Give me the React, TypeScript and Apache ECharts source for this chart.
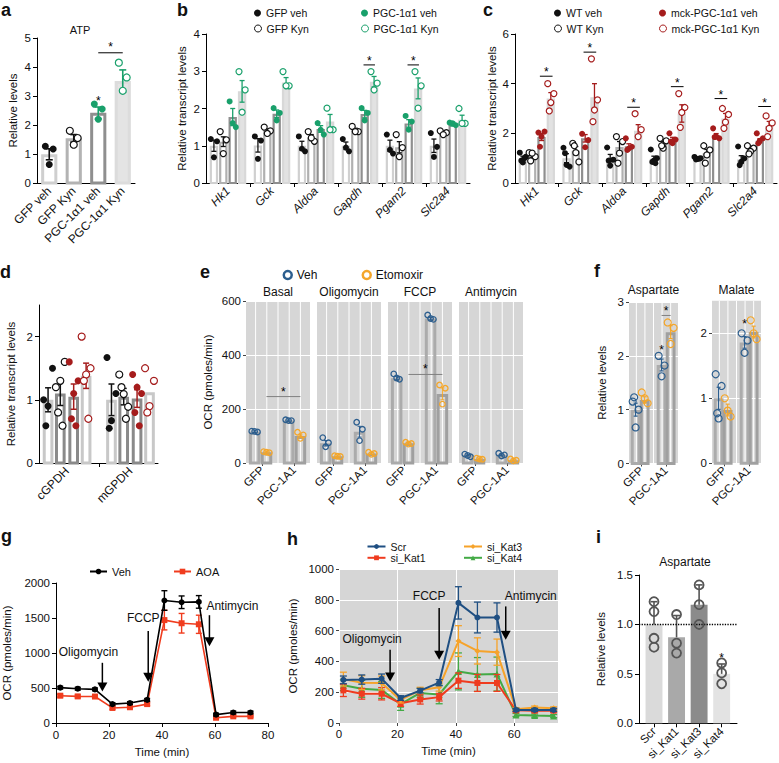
import React, { useEffect, useRef } from "react";
import * as echarts from "echarts";

const FONT = "'Liberation Sans', Arial, Helvetica, sans-serif";

const BLACK = "#111111";
const GREEN = "#19a06b";
const DRED = "#a51c1c";
const BLUE = "#2c5e8e";
const ORANGE = "#f4a62a";
const RED = "#f03c1e";
const H_SCR = "#1f4f82";
const H_KAT1 = "#ef3b1f";
const H_KAT3 = "#f6a32a";
const H_KAT4 = "#43aa45";

// ---------- Panel a : ATP ----------
const aLabels = ["GFP veh", "GFP Kyn", "PGC-1α1 veh", "PGC-1α1 Kyn"];
const aMeans = [0.99, 1.54, 2.42, 3.52];
const aErr = [0.19, 0.13, 0.2, 0.38];
const aPoints = [[1.27, 1.17, 0.64], [1.8, 1.55, 1.32], [2.72, 2.55, 2.2], [4.15, 3.64, 3.18]];
const aStarOnlyY = 2.92;
const aSigY = 4.49;

// ---------- Panel b ----------
const bGenes = ["Hk1", "Gck", "Aldoa", "Gapdh", "Pgam2", "Slc2a4"];
const bLegend = ["GFP veh", "GFP Kyn", "PGC-1α1 veh", "PGC-1α1 Kyn"];
const bMeans = [
  [1.0, 1.01, 1.0, 1.0, 1.0, 1.0],
  [1.11, 1.4, 1.22, 1.42, 0.96, 1.35],
  [1.77, 1.86, 1.45, 1.85, 1.6, 1.58],
  [2.46, 2.7, 1.65, 2.72, 2.54, 1.7],
];
const bErr = [
  [0.15, 0.18, 0.12, 0.1, 0.15, 0.18],
  [0.13, 0.05, 0.08, 0.05, 0.15, 0.04],
  [0.23, 0.1, 0.09, 0.1, 0.1, 0.05],
  [0.29, 0.13, 0.19, 0.14, 0.28, 0.12],
];
const bPoints = [
  [[1.18, 1.12, 0.69], [1.25, 1.14, 0.65], [1.25, 0.85, 0.92], [1.18, 0.85, 0.95], [1.3, 0.79, 0.89], [1.34, 0.97, 0.7]],
  [[1.38, 1.16, 0.79], [1.5, 1.4, 1.33], [1.38, 1.12, 1.21], [1.52, 1.38, 1.38], [1.3, 0.95, 0.71], [1.4, 1.35, 1.3]],
  [[2.19, 1.5, 1.61], [2.01, 1.88, 1.68], [1.61, 1.3, 1.43], [2.01, 1.88, 1.68], [1.8, 1.65, 1.43], [1.62, 1.55, 1.6]],
  [[2.99, 2.5, 1.9], [2.99, 2.61, 2.61], [2.01, 1.43, 1.43], [2.99, 2.68, 2.5], [2.99, 2.61, 2.01], [2.0, 1.6, 1.6]],
];
const bSigGenes = [3, 4];
const bSigY = [3.17, 3.17];

// ---------- Panel c ----------
const cGenes = ["Hk1", "Gck", "Aldoa", "Gapdh", "Pgam2", "Slc2a4"];
const cLegend = ["WT veh", "WT Kyn", "mck-PGC-1α1 veh", "mck-PGC-1α1 Kyn"];
const cMeans = [
  [1.0, 1.0, 1.0, 0.98, 1.0, 0.95],
  [1.1, 1.3, 1.45, 1.6, 1.2, 1.33],
  [1.85, 1.8, 1.48, 1.75, 1.9, 1.7],
  [3.4, 3.45, 2.1, 2.8, 2.6, 2.3],
];
const cErr = [
  [0.08, 0.18, 0.15, 0.1, 0.03, 0.15],
  [0.08, 0.17, 0.22, 0.08, 0.15, 0.07],
  [0.14, 0.15, 0.1, 0.09, 0.09, 0.08],
  [0.24, 0.55, 0.25, 0.35, 0.2, 0.18],
];
const cPoints = [
  [[1.22, 1.06, 0.83, 0.9, 1.0], [1.42, 0.66, 0.73, 1.2], [1.43, 0.94, 0.7, 0.9], [1.35, 1.0, 0.9, 0.85, 0.8], [1.05, 1.0, 0.97, 0.95, 0.98], [1.47, 0.99, 0.85, 0.72]],
  [[1.22, 1.06, 1.2, 0.89], [1.6, 0.85, 1.22, 1.5], [1.87, 1.67, 1.2, 0.8], [1.8, 1.7, 1.4, 1.5], [1.5, 1.33, 1.13, 0.8], [1.5, 1.4, 1.27, 1.17]],
  [[2.03, 2.07, 1.87, 1.46], [1.98, 1.73, 1.44], [1.8, 1.46, 1.39, 1.33], [2.0, 1.75, 1.6, 1.67], [2.2, 1.8, 1.87, 1.85], [2.0, 1.8, 1.7, 1.6]],
  [[4.0, 3.6, 3.24, 2.9], [5.0, 3.35, 2.94, 2.47], [2.79, 2.15, 1.87], [3.6, 3.04, 2.84, 2.24], [3.0, 2.76, 2.45, 2.2], [2.7, 2.42, 2.2, 1.87]],
];
const cSigY = [4.3, 5.27, 3.05, 3.88, 3.4, 3.08];

// ---------- Panel d ----------
const dGenes = ["cGPDH", "mGPDH"];
const dMeans = [[1.0, 1.0], [1.1, 1.05], [1.05, 1.02], [1.38, 1.12]];
const dErr = [[0.19, 0.25], [0.19, 0.13], [0.2, 0.14], [0.2, 0]];
const dPoints = [
  [[1.0, 1.5, 0.9, 0.59], [1.67, 1.1, 0.67, 0.55]],
  [[1.2, 1.6, 1.3, 0.8, 0.59], [1.4, 0.89, 1.09, 1.2, 0.7]],
  [[1.6, 1.3, 1.1, 0.7, 0.59], [1.4, 1.1, 1.2, 0.8, 0.59]],
  [[2.0, 1.5, 1.4, 1.3, 0.7], [1.5, 1.3, 0.9, 0.8]],
];

// ---------- Panel e ----------
const eStages = ["Basal", "Oligomycin", "FCCP", "Antimycin"];
const eGroups = ["GFP", "PGC-1A1"];
const eVehGFP = [116, 73, 314, 30];
const eEtoGFP = [40, 25, 73, 15];
const eVehPGC = [157, 116, 535, 30];
const eEtoPGC = [100, 35, 256, 10];
const eVehGFPPts = [[118, 115, 117], [94, 75, 60], [330, 310, 315], [33, 23, 28]];
const eEtoGFPPts = [[42, 38, 40], [27, 24, 25], [77, 72, 70], [18, 14, 15]];
const eVehPGCPts = [[160, 157, 157], [151, 125, 83], [548, 532, 535], [36, 30, 26]];
const eEtoPGCPts = [[114, 104, 91], [40, 35, 32], [289, 277, 218], [15, 10, 8]];
const eVehGFPErr = [3, 10, 6, 3];
const eEtoGFPErr = [2, 1, 3, 2];
const eVehPGCErr = [2, 20, 5, 3];
const eEtoPGCErr = [7, 3, 22, 2];
const eSigY = [246, null, 328, null];

// ---------- Panel f ----------
const fMetabolites = ["Aspartate", "Malate"];
const fVehGFP = [1.0, 1.0];
const fEtoGFP = [1.18, 0.82];
const fVehPGC = [1.83, 1.86];
const fEtoPGC = [2.44, 2.02];
const fVehGFPPts = [[1.15, 1.0, 0.67, 1.23], [1.37, 1.19, 0.69, 0.77]];
const fEtoGFPPts = [[1.32, 1.12, 1.21], [1.0, 0.72, 0.81]];
const fVehPGCPts = [[2.0, 1.82, 1.62], [2.0, 1.89, 1.7]];
const fEtoPGCPts = [[2.62, 2.52, 2.22], [2.2, 1.91, 2.0]];
const fVehGFPErr = [0.12, 0.17];
const fEtoGFPErr = [0.06, 0.09];
const fVehPGCErr = [0.11, 0.09];
const fEtoPGCErr = [0.12, 0.09];
const fStarOnlyY = [2.16, 2.19];
const fSigY = [2.75, null];
const fMax = [3, 2.5];

// ---------- Panel g ----------
const gTime = [1.6, 8.2, 14.7, 21.3, 27.9, 34.4, 40.9, 47.4, 53.9, 60.4, 66.9, 73.4];
const gVeh = [505, 490, 480, 270, 285, 330, 1750, 1725, 1730, 120, 150, 150];
const gVehErr = [20, 20, 20, 20, 20, 20, 140, 90, 90, 20, 20, 20];
const gAOA = [390, 380, 378, 215, 225, 270, 1470, 1425, 1410, 75, 95, 95];
const gAOAErr = [20, 20, 20, 20, 20, 20, 140, 140, 130, 10, 10, 10];
const gInjections = ["Oligomycin", "FCCP", "Antimycin"];
const gArrowT = [17.5, 34.8, 57.9];
const gArrowTop = [860, 1315, 1540];
const gArrowTip = [450, 590, 1098];

// ---------- Panel h ----------
const hTime = [1.5, 7.8, 14.6, 21.1, 27.8, 34.3, 40.9, 47.4, 54.1, 60.6, 67.0, 73.5];
const hScr = [280, 282, 288, 162, 210, 262, 780, 685, 685, 85, 85, 85];
const hScrErr = [25, 30, 30, 15, 15, 20, 105, 100, 95, 10, 10, 10];
const hKat3 = [285, 262, 260, 150, 212, 232, 532, 468, 460, 90, 100, 95];
const hKat3Err = [45, 45, 45, 20, 20, 25, 100, 85, 85, 10, 10, 10];
const hKat1 = [212, 190, 190, 128, 153, 168, 275, 260, 260, 82, 80, 80];
const hKat1Err = [40, 35, 40, 20, 30, 25, 50, 55, 55, 10, 10, 10];
const hKat4 = [245, 222, 215, 122, 195, 185, 335, 315, 318, 52, 48, 45];
const hKat4Err = [35, 55, 55, 40, 30, 60, 120, 110, 110, 10, 10, 10];
const hArrowT = [17.5, 34.3, 57.1];
const hArrowTop = [476, 747, 757];
const hArrowTip = [270, 411, 541];

// ---------- Panel i ----------
const iLabels = ["Scr", "si_Kat1", "si_Kat3", "si_Kat4"];
const iMeans = [1.0, 0.87, 1.2, 0.5];
const iErr = [0.23, 0.22, 0.2, 0.1];
const iPoints = [[1.23, 1.13, 0.86, 0.77], [1.1, 0.81, 0.71], [1.4, 1.2, 1.0], [0.61, 0.51, 0.4]];
const iStarY = 0.69;
const iRef = 1.0;

// ---------- style constants (not data) ----------
const JIT = [-1, 1, 0, -0.5, 0.5];
const GROUP_OFF = [-0.32, -0.107, 0.107, 0.32];
const D_OFF = [-0.3, -0.107, 0.104, 0.3];
const FACET_BAR_X = [0.77, 1.14, 1.83, 2.2];
const FACET_LINES = [0.8, 1.15, 1.5, 1.85, 2.2];
const E_LEFT = [246, 317, 388, 459];
const F_LEFT = [629, 712];
const G_LABEL_DX = [-14, -5, 23];
const G_LABEL_DY = [-11, -13, -9];
const H_LABEL_DX = [-18, -10, 25];
const H_LABEL_DY = [-11, -12, -10];

function buildOption() {
  const grid: any[] = [];
  const xAxis: any[] = [];
  const yAxis: any[] = [];
  const series: any[] = [];
  const legend: any[] = [];
  const graphic: any[] = [];

  const label = (size = 11, extra: any = {}) => ({ fontSize: size, fontFamily: FONT, color: "#111", ...extra });
  const plain = (v: number) => String(v);
  const blackLine = { show: true, onZero: false, lineStyle: { color: "#000", width: 1 } };
  const outTick = { show: true, length: 4, lineStyle: { color: "#000", width: 1 } };
  const ggTick = { show: true, length: 3, lineStyle: { color: "#444", width: 1 } };

  const panel = (g: any, xa: any, ya: any) => {
    const i = grid.length;
    grid.push({ containLabel: false, ...g });
    xAxis.push({ gridIndex: i, type: "value", splitLine: { show: false }, axisLine: { show: false }, axisTick: { show: false }, axisLabel: { show: false }, ...xa });
    yAxis.push({ gridIndex: i, type: "value", splitLine: { show: false }, axisLine: { show: false }, axisTick: { show: false }, axisLabel: { show: false }, ...ya });
    return i;
  };

  const bar = (gi: number, data: number[][], w: number, fill: string, stroke: string, lw: number, z = 2) => {
    series.push({
      type: "custom", xAxisIndex: gi, yAxisIndex: gi, z, silent: true, data,
      renderItem: (_p: any, api: any) => {
        const x = api.value(0), v = api.value(1);
        const tl = api.coord([x - w / 2, v]);
        const br = api.coord([x + w / 2, 0]);
        const h = lw / 2;
        return {
          type: "rect",
          shape: { x: tl[0] + h, y: tl[1] + h, width: Math.max(0, br[0] - tl[0] - lw), height: Math.max(0, br[1] - tl[1] - h) },
          style: { fill, stroke: lw > 0 ? stroke : "none", lineWidth: lw },
        };
      },
    });
  };

  const err = (gi: number, data: number[][], color: string, cap: number, lw = 1.3, lowCap = true, z = 4) => {
    series.push({
      type: "custom", xAxisIndex: gi, yAxisIndex: gi, z, silent: true, data,
      renderItem: (_p: any, api: any) => {
        const x = api.value(0);
        const lo = api.coord([x, api.value(1)]);
        const hi = api.coord([x, api.value(2)]);
        const st = { stroke: color, lineWidth: lw };
        const ch: any[] = [
          { type: "line", shape: { x1: lo[0], y1: lo[1], x2: hi[0], y2: hi[1] }, style: st },
          { type: "line", shape: { x1: hi[0] - cap / 2, y1: hi[1], x2: hi[0] + cap / 2, y2: hi[1] }, style: st },
        ];
        if (lowCap) ch.push({ type: "line", shape: { x1: lo[0] - cap / 2, y1: lo[1], x2: lo[0] + cap / 2, y2: lo[1] }, style: st });
        return { type: "group", children: ch };
      },
    });
  };

  // data: [x1, y, x2]
  const sig = (gi: number, data: number[][], lineColor = "#000", gap = 7, z = 6) => {
    series.push({
      type: "custom", xAxisIndex: gi, yAxisIndex: gi, z, silent: true, data,
      renderItem: (_p: any, api: any) => {
        const x1 = api.value(0), y = api.value(1), x2 = api.value(2);
        const a = api.coord([x1, y]);
        const b = api.coord([x2, y]);
        const hasLine = x2 > x1;
        const ch: any[] = [];
        if (hasLine) ch.push({ type: "line", shape: { x1: a[0], y1: a[1], x2: b[0], y2: b[1] }, style: { stroke: lineColor, lineWidth: 1 } });
        const sy = a[1] - (hasLine ? gap : 0) + 3;
        ch.push({ type: "text", x: (a[0] + b[0]) / 2, y: sy, style: { text: "*", fill: "#000", font: `12px ${FONT}`, align: "center", verticalAlign: "middle", textAlign: "center", textVerticalAlign: "middle" } });
        return { type: "group", children: ch };
      },
    });
  };

  const arrows = (gi: number, data: number[][], names: string[], dx: number[], dy: number[]) => {
    series.push({
      type: "custom", xAxisIndex: gi, yAxisIndex: gi, z: 8, silent: true, data, clip: false,
      renderItem: (p: any, api: any) => {
        const t = api.value(0);
        const top = api.coord([t, api.value(1)]);
        const tip = api.coord([t, api.value(2)]);
        const hh = 9, hw = 5;
        return {
          type: "group",
          children: [
            { type: "line", shape: { x1: top[0], y1: top[1], x2: tip[0], y2: tip[1] - hh + 1 }, style: { stroke: "#000", lineWidth: 1.5 } },
            { type: "polygon", shape: { points: [[tip[0] - hw, tip[1] - hh], [tip[0] + hw, tip[1] - hh], [tip[0], tip[1]]] }, style: { fill: "#000" } },
            { type: "text", x: top[0] + dx[p.dataIndex], y: top[1] + dy[p.dataIndex], style: { text: names[p.dataIndex], fill: "#111", font: `12px ${FONT}`, align: "center", verticalAlign: "middle", textAlign: "center", textVerticalAlign: "middle" } },
          ],
        };
      },
    });
  };

  const vgrid = (gi: number, xs: number[]) => {
    series.push({
      type: "custom", xAxisIndex: gi, yAxisIndex: gi, z: 1, silent: true, data: xs.map((v) => [v, 0]),
      renderItem: (p: any, api: any) => {
        const c = api.coord([api.value(0), 0]);
        const cs = p.coordSys;
        return { type: "line", shape: { x1: c[0], y1: cs.y, x2: c[0], y2: cs.y + cs.height }, style: { stroke: "#ffffff", lineWidth: 1 } };
      },
    });
  };

  const pts = (gi: number, name: string, data: number[][], size: number, fill: string, stroke: string, lw: number, z = 5, symbol = "circle") => {
    const s: any = { type: "scatter", name, xAxisIndex: gi, yAxisIndex: gi, data, symbol, symbolSize: size, z, silent: true, itemStyle: { color: fill, borderColor: stroke, borderWidth: lw, opacity: 1 } };
    series.push(s);
    return s;
  };

  const leg = (name: string, text: string, item: any, left: number, top: number, size: number, w: number, h: number) => {
    legend.push({ data: [{ name, ...item }], formatter: () => text, left, top, padding: 0, itemWidth: w, itemHeight: h, selectedMode: false, textStyle: label(size) });
  };

  const txt = (s: string, x: number, y: number, font: string, align = "left") => {
    graphic.push({ type: "text", x, y, silent: true, style: { text: s, font, fill: "#111", textAlign: align, textVerticalAlign: "middle" } });
  };

  const condStyle = (c: number, col: string) => (c % 2 === 0 ? { fill: col, stroke: col, lw: 0 } : { fill: "#ffffff", stroke: col, lw: 1.2 });

  // ================= Panel a =================
  const ga = panel(
    { left: 37, top: 38, width: 98, height: 145 },
    { min: 0, max: 4, axisLine: blackLine, axisTick: { show: false }, axisLabel: label(12, { rotate: 45, margin: 6, customValues: [0.5, 1.5, 2.5, 3.5], formatter: (v: number) => aLabels[Math.floor(v)] }) },
    { min: 0, max: 5, interval: 1, axisLine: blackLine, axisTick: outTick, axisLabel: label(11.5, { margin: 6 }), name: "Relative levels", nameLocation: "middle", nameGap: 18, nameTextStyle: label(11.5) }
  );
  const aStroke = ["#cfcfcf", "#b3b3b3", "#8f8f8f", "#dcdcdc"];
  const aFill = ["#ffffff", "#ffffff", "#ffffff", "#e4e4e4"];
  aMeans.forEach((m, i) => {
    const col = i < 2 ? BLACK : GREEN;
    const st = condStyle(i, col);
    bar(ga, [[i + 0.5, m]], 0.66, aFill[i], aStroke[i], 3);
    err(ga, [[i + 0.5, m - aErr[i], m + aErr[i]]], col, 7, 1.6);
    pts(ga, "a_" + aLabels[i], aPoints[i].map((v, k) => [i + 0.5 + JIT[k] * 0.16, v]), 7, st.fill, st.stroke, st.lw);
  });
  sig(ga, [[2.5, aStarOnlyY, 2.5], [2.5, aSigY, 3.5]], "#000", 9);
  txt("ATP", 80, 30, `11px ${FONT}`, "center");

  // ================= Panel b / c (grouped) =================
  const grouped = (left: number, width: number, max: number, interval: number, genes: string[], means: number[][], errs: number[][], points: number[][][], col2: string, names: string[], nameGap: number) => {
    const gi = panel(
      { left, top: 34, width, height: 149 },
      {
        min: 0, max: genes.length, axisLine: blackLine,
        axisTick: { show: true, length: 4, customValues: genes.slice(1).map((_, i) => i + 1), lineStyle: { color: "#000" } },
        axisLabel: label(12, { fontStyle: "italic", rotate: 45, margin: 6, customValues: genes.map((_, i) => i + 0.5), formatter: (v: number) => genes[Math.floor(v)] }),
      },
      { min: 0, max, interval, axisLine: blackLine, axisTick: outTick, axisLabel: label(11.5, { margin: 6 }), name: "Relative transcript levels", nameLocation: "middle", nameGap, nameTextStyle: label(11.5) }
    );
    const stroke = ["#d0d0d0", "#b0b0b0", "#8f8f8f", "#d8d8d8"];
    const fill = ["#ffffff", "#ffffff", "#ffffff", "#e2e2e2"];
    for (let c = 0; c < 4; c++) {
      const col = c < 2 ? BLACK : col2;
      const st = condStyle(c, col);
      bar(gi, genes.map((_, g) => [g + 0.5 + GROUP_OFF[c], means[c][g]]), 0.19, fill[c], stroke[c], 2.2);
      err(gi, genes.map((_, g) => [g + 0.5 + GROUP_OFF[c], means[c][g] - errs[c][g], means[c][g] + errs[c][g]]), col, 5, 1.3);
      const d: number[][] = [];
      genes.forEach((_, g) => points[c][g].forEach((v, k) => d.push([g + 0.5 + GROUP_OFF[c] + JIT[k] * 0.07, v])));
      pts(gi, names[c], d, 6, st.fill, st.stroke, st.lw);
    }
    return gi;
  };

  const gb = grouped(206, 264, 4, 1, bGenes, bMeans, bErr, bPoints, GREEN, bLegend, 18);
  sig(gb, bSigGenes.map((g, i) => [g + 0.5 + 0.08, bSigY[i], g + 0.5 + 0.34]));
  const gc = grouped(515, 262, 6, 2, cGenes, cMeans, cErr, cPoints, DRED, cLegend, 17);
  sig(gc, cGenes.map((_, g) => [g + 0.5 + 0.07, cSigY[g], g + 0.5 + 0.36]));

  const dot = (col: string) => ({ icon: "circle", itemStyle: { color: col, borderWidth: 0 } });
  const ring = (col: string, w = 1) => ({ icon: "circle", itemStyle: { color: "#ffffff", borderColor: col, borderWidth: w } });
  leg(bLegend[0], bLegend[0], dot(BLACK), 254, 7.5, 10.5, 7, 7);
  leg(bLegend[1], bLegend[1], ring(BLACK), 254, 23, 10.5, 7, 7);
  leg(bLegend[2], bLegend[2], dot(GREEN), 361, 7.5, 10.5, 7, 7);
  leg(bLegend[3], bLegend[3], ring(GREEN), 361, 23, 10.5, 7, 7);
  leg(cLegend[0], cLegend[0], dot(BLACK), 554, 7.5, 10.5, 7, 7);
  leg(cLegend[1], cLegend[1], ring(BLACK), 554, 23, 10.5, 7, 7);
  leg(cLegend[2], cLegend[2], dot(DRED), 659, 7.5, 10.5, 7, 7);
  leg(cLegend[3], cLegend[3], ring(DRED), 659, 23, 10.5, 7, 7);

  // ================= Panel d =================
  const gd = panel(
    { left: 39, top: 305, width: 119, height: 158 },
    { min: 0.057, max: 1.934, axisLine: blackLine, axisTick: { show: true, length: 4, customValues: [1], lineStyle: { color: "#000" } }, axisLabel: label(12, { rotate: 45, margin: 6, customValues: [0.5, 1.5], formatter: (v: number) => dGenes[Math.floor(v)] }) },
    { min: 0, max: 2.5, axisLine: blackLine, axisTick: { ...outTick, customValues: [0, 1, 2] }, axisLabel: label(11.5, { margin: 6, customValues: [0, 1, 2] }), name: "Relative transcript levels", nameLocation: "middle", nameGap: 22, nameTextStyle: label(11.5) }
  );
  const dStroke = ["#c8c8c8", "#8a8a8a", "#8a8a8a", "#c8c8c8"];
  for (let c = 0; c < 4; c++) {
    const col = c < 2 ? BLACK : DRED;
    const st = condStyle(c, col);
    bar(gd, dGenes.map((_, g) => [g + 0.5 + D_OFF[c], dMeans[c][g]]), 0.168, "#ffffff", dStroke[c], 3);
    err(gd, dGenes.map((_, g) => [g + 0.5 + D_OFF[c], dMeans[c][g] - dErr[c][g], dMeans[c][g] + dErr[c][g]]).filter((r) => r[2] > r[1]), col, 6, 1.5);
    const d: number[][] = [];
    dGenes.forEach((_, g) => dPoints[c][g].forEach((v, k) => d.push([g + 0.5 + D_OFF[c] + JIT[k] * 0.07, v])));
    pts(gd, "d_" + cLegend[c], d, 7, st.fill, st.stroke, st.lw);
  }

  // ================= Panel e =================
  const eMeans = [eVehGFP, eEtoGFP, eVehPGC, eEtoPGC];
  const ePts = [eVehGFPPts, eEtoGFPPts, eVehPGCPts, eEtoPGCPts];
  const eErrs = [eVehGFPErr, eEtoGFPErr, eVehPGCErr, eEtoPGCErr];
  eStages.forEach((stage, s) => {
    const gi = panel(
      { left: E_LEFT[s], top: 301, width: 64, height: 162, show: true, backgroundColor: "#d6d6d6", borderWidth: 0 },
      { min: 0.5, max: 2.5, axisTick: { ...ggTick, customValues: [1, 2] }, axisLabel: label(11.5, { rotate: 45, margin: 5, customValues: [1, 2], formatter: (v: number) => eGroups[Math.round(v) - 1] }) },
      {
        min: 0, max: 600, interval: 200, splitLine: { show: true, lineStyle: { color: "#ffffff", width: 1 } },
        axisTick: s === 0 ? ggTick : { show: false }, axisLabel: s === 0 ? label(11.5, { margin: 5 }) : { show: false },
        ...(s === 0 ? { name: "OCR (pmoles/min)", nameLocation: "middle", nameGap: 32, nameTextStyle: label(11.5) } : {}),
      }
    );
    vgrid(gi, FACET_LINES);
    for (let j = 0; j < 4; j++) {
      const col = j % 2 === 0 ? BLUE : ORANGE;
      const m = eMeans[j][s];
      bar(gi, [[FACET_BAR_X[j], m]], 0.36, "rgba(0,0,0,0)", j % 2 === 0 ? "#ababab" : "#a0a0a0", 3);
      err(gi, [[FACET_BAR_X[j], m - eErrs[j][s], m + eErrs[j][s]]], col, 4, 1);
      pts(gi, j % 2 === 0 ? "e_veh" : "e_eto", ePts[j][s].map((v, k) => [FACET_BAR_X[j] + JIT[k] * 0.09, v]), 5.5, "rgba(0,0,0,0)", col, 1.3);
    }
    const sy = eSigY[s];
    if (sy !== null) sig(gi, [[FACET_BAR_X[1], sy, FACET_BAR_X[3]]], "#808080", 8);
    txt(stage, E_LEFT[s] + 32, 292, `12px ${FONT}`, "center");
  });
  leg("e_veh", "Veh", { icon: "circle", itemStyle: { color: "rgba(0,0,0,0)", borderColor: BLUE, borderWidth: 2.5 } }, 282.5, 269, 12, 8, 8);
  leg("e_eto", "Etomoxir", { icon: "circle", itemStyle: { color: "rgba(0,0,0,0)", borderColor: ORANGE, borderWidth: 2.5 } }, 361.5, 269, 12, 8, 8);

  // ================= Panel f =================
  const fMeansAll = [fVehGFP, fEtoGFP, fVehPGC, fEtoPGC];
  const fPtsAll = [fVehGFPPts, fEtoGFPPts, fVehPGCPts, fEtoPGCPts];
  const fErrAll = [fVehGFPErr, fEtoGFPErr, fVehPGCErr, fEtoPGCErr];
  fMetabolites.forEach((met, s) => {
    const top = s === 0 ? 302 : 300.8;
    const height = s === 0 ? 161.5 : 162.5;
    const lv = s === 0 ? [0, 1, 2, 3] : [0, 1, 2];
    const gi = panel(
      { left: F_LEFT[s], top, width: 49, height, show: true, backgroundColor: "#d6d6d6", borderWidth: 0 },
      { min: 0.5, max: 2.5, axisTick: { ...ggTick, customValues: [1, 2] }, axisLabel: label(11.5, { rotate: 45, margin: 5, customValues: [1, 2], formatter: (v: number) => eGroups[Math.round(v) - 1] }) },
      {
        min: 0, max: fMax[s], interval: 1, splitLine: { show: true, lineStyle: { color: "#ffffff", width: 1 } },
        axisTick: { ...ggTick, customValues: lv }, axisLabel: label(11.5, { margin: 5, customValues: lv }),
        ...(s === 0 ? { name: "Relative levels", nameLocation: "middle", nameGap: 21, nameTextStyle: label(11.5) } : {}),
      }
    );
    vgrid(gi, FACET_LINES);
    for (let j = 0; j < 4; j++) {
      const col = j % 2 === 0 ? BLUE : ORANGE;
      const m = fMeansAll[j][s];
      bar(gi, [[FACET_BAR_X[j], m]], 0.4, "rgba(0,0,0,0)", j % 2 === 0 ? "#ababab" : "#a0a0a0", 3);
      err(gi, [[FACET_BAR_X[j], m - fErrAll[j][s], m + fErrAll[j][s]]], col, 4, 1.2);
      pts(gi, j % 2 === 0 ? "f_veh" : "f_eto", fPtsAll[j][s].map((v, k) => [FACET_BAR_X[j] + JIT[k] * 0.12, v]), 7, "rgba(0,0,0,0)", col, 1.2);
    }
    sig(gi, [[FACET_BAR_X[2], fStarOnlyY[s], FACET_BAR_X[2]]]);
    const sy = fSigY[s];
    if (sy !== null) sig(gi, [[FACET_BAR_X[2], sy, FACET_BAR_X[3]]], "#808080", 7);
    txt(met, F_LEFT[s] + 24.5, 290, `12px ${FONT}`, "center");
  });

  // ================= Panel g =================
  const gg = panel(
    { left: 54, top: 583, width: 214, height: 140 },
    { min: 0, max: 80, interval: 20, axisLine: blackLine, axisTick: outTick, axisLabel: label(11.5, { margin: 6, formatter: plain }), name: "Time (min)", nameLocation: "middle", nameGap: 23, nameTextStyle: label(11.5) },
    { min: 0, max: 2000, interval: 500, axisLine: blackLine, axisTick: outTick, axisLabel: label(11.5, { margin: 6, formatter: plain }), name: "OCR (pmoles/min)", nameLocation: "middle", nameGap: 43, nameTextStyle: label(11.5) }
  );
  err(gg, gTime.map((t, i) => [t, gAOA[i] - gAOAErr[i], gAOA[i] + gAOAErr[i]]), RED, 6, 1.4, true, 3);
  series.push({ type: "line", name: "g_aoa", xAxisIndex: gg, yAxisIndex: gg, data: gTime.map((t, i) => [t, gAOA[i]]), symbol: "rect", symbolSize: 6, lineStyle: { color: RED, width: 1.6 }, itemStyle: { color: RED }, z: 4, silent: true });
  err(gg, gTime.map((t, i) => [t, gVeh[i] - gVehErr[i], gVeh[i] + gVehErr[i]]), "#000", 6, 1.4, true, 5);
  series.push({ type: "line", name: "g_veh", xAxisIndex: gg, yAxisIndex: gg, data: gTime.map((t, i) => [t, gVeh[i]]), symbol: "circle", symbolSize: 6, lineStyle: { color: "#000", width: 1.6 }, itemStyle: { color: "#000" }, z: 6, silent: true });
  arrows(gg, gArrowT.map((t, i) => [t, gArrowTop[i], gArrowTip[i]]), gInjections, G_LABEL_DX, G_LABEL_DY);
  leg("g_veh", "Veh", {}, 89, 566, 11, 17, 7);
  leg("g_aoa", "AOA", {}, 173, 566, 11, 17, 7);

  // ================= Panel h =================
  const gh = panel(
    { left: 339, top: 569, width: 219, height: 154, show: true, backgroundColor: "#d6d6d6", borderWidth: 0 },
    { min: 0, max: 75, interval: 20, splitLine: { show: true, lineStyle: { color: "#ffffff", width: 1 } }, axisTick: { ...ggTick, customValues: [0, 20, 40, 60] }, axisLabel: label(11.5, { margin: 5, customValues: [0, 20, 40, 60], formatter: plain }), name: "Time (min)", nameLocation: "middle", nameGap: 22, nameTextStyle: label(11.5) },
    { min: 0, max: 1000, interval: 200, splitLine: { show: true, lineStyle: { color: "#ffffff", width: 1 } }, axisTick: ggTick, axisLabel: label(11.5, { margin: 5, formatter: plain }), name: "OCR (pmoles/min)", nameLocation: "middle", nameGap: 40, nameTextStyle: label(11.5) }
  );
  const hSeries: [string, number[], number[], string, string][] = [
    ["h_kat4", hKat4, hKat4Err, H_KAT4, "triangle"],
    ["h_kat1", hKat1, hKat1Err, H_KAT1, "rect"],
    ["h_kat3", hKat3, hKat3Err, H_KAT3, "diamond"],
    ["h_scr", hScr, hScrErr, H_SCR, "circle"],
  ];
  hSeries.forEach(([name, vals, errs, col, sym], k) => {
    err(gh, hTime.map((t, i) => [t, vals[i] - errs[i], vals[i] + errs[i]]), col, 7, 1.3, true, 3 + k * 2);
    series.push({ type: "line", name, xAxisIndex: gh, yAxisIndex: gh, data: hTime.map((t, i) => [t, vals[i]]), symbol: sym, symbolSize: sym === "triangle" ? 7 : 6, lineStyle: { color: col, width: 2 }, itemStyle: { color: col }, z: 4 + k * 2, silent: true });
  });
  arrows(gh, hArrowT.map((t, i) => [t, hArrowTop[i], hArrowTip[i]]), gInjections, H_LABEL_DX, H_LABEL_DY);
  leg("h_scr", "Scr", {}, 366.5, 541, 10.5, 18, 6);
  leg("h_kat1", "si_Kat1", {}, 366.5, 552.3, 10.5, 18, 6);
  leg("h_kat3", "si_Kat3", {}, 463, 541, 10.5, 18, 6);
  leg("h_kat4", "si_Kat4", {}, 463, 552.3, 10.5, 18, 6);

  // ================= Panel i =================
  const gi9 = panel(
    { left: 639, top: 575, width: 98, height: 148.3 },
    { min: -0.665, max: 3.68, axisLine: blackLine, axisTick: { ...outTick, customValues: [0, 1, 2, 3] }, axisLabel: label(11.5, { rotate: 45, margin: 6, customValues: [0, 1, 2, 3], formatter: (v: number) => iLabels[Math.round(v)] }) },
    { min: 0, max: 1.5, interval: 0.5, axisLine: blackLine, axisTick: outTick, axisLabel: label(11.5, { margin: 6, formatter: (v: number) => v.toFixed(1) }), name: "Relative levels", nameLocation: "middle", nameGap: 32, nameTextStyle: label(11.5) }
  );
  const iFill = ["#dadada", "#a9a9a9", "#8b8b8b", "#e3e3e3"];
  iMeans.forEach((m, i) => {
    bar(gi9, [[i, m]], 0.75, iFill[i], "none", 0);
  });
  err(gi9, iMeans.map((m, i) => [i, m, m + iErr[i]]), "#555555", 7, 1.6, false);
  const iData: number[][] = [];
  iPoints.forEach((arr, i) => arr.forEach((v) => iData.push([i, v])));
  const iPts = pts(gi9, "i_pts", iData, 9, "rgba(0,0,0,0)", "#555555", 1.8, 6);
  iPts.markLine = { silent: true, symbol: ["none", "none"], label: { show: false }, lineStyle: { color: "#000", type: "dotted", width: 1.3 }, data: [{ yAxis: iRef }] };
  sig(gi9, [[3, iStarY, 3]]);
  txt("Aspartate", 685, 562, `12px ${FONT}`, "center");

  // ================= Panel letters =================
  const L = `bold 18px ${FONT}`;
  txt("a", 1, 10, L);
  txt("b", 177, 10, L);
  txt("c", 483, 10, L);
  txt("d", 0, 272, L);
  txt("e", 200, 272, L);
  txt("f", 594, 271, L);
  txt("g", 1, 536, L);
  txt("h", 287, 539, L);
  txt("i", 596, 537, L);

  return {
    animation: false,
    backgroundColor: "#ffffff",
    textStyle: { fontFamily: FONT },
    grid, xAxis, yAxis, series, legend,
    graphic: { elements: graphic },
  };
}

export default function App() {
  const ref = useRef<HTMLDivElement>(null);
  useEffect(() => {
    document.body.style.margin = "0";
    if (!ref.current) return;
    const chart = echarts.init(ref.current, null, { renderer: "svg" });
    chart.setOption(buildOption());
    return () => chart.dispose();
  }, []);
  return <div ref={ref} style={{ position: "absolute", left: 0, top: 0, width: 779, height: 763, background: "#fff" }} />;
}
